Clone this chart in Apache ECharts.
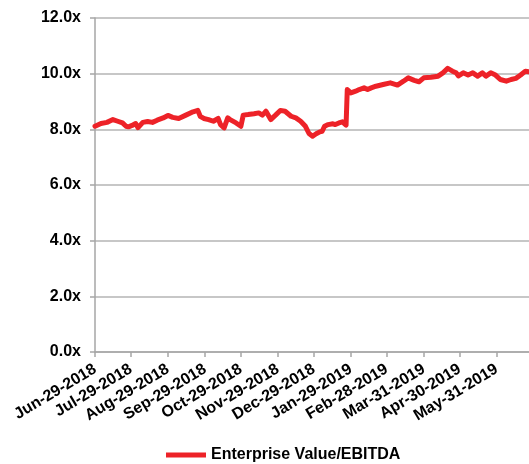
<!DOCTYPE html>
<html>
<head>
<meta charset="utf-8">
<script src="https://cdn.jsdelivr.net/npm/echarts@6/dist/echarts.min.js"></script>
<style>
  html, body { margin: 0; padding: 0; background: #fff; }
  #chart { width: 529px; height: 464px; }
</style>
</head>
<body>
<div id="chart"></div>
<script>
// Month-end ticks shown along the date axis
const tickLabels = [
  'Jun-29-2018', 'Jul-29-2018', 'Aug-29-2018', 'Sep-29-2018', 'Oct-29-2018',
  'Nov-29-2018', 'Dec-29-2018', 'Jan-29-2019', 'Feb-28-2019', 'Mar-31-2019',
  'Apr-30-2019', 'May-31-2019'
];

// Enterprise Value / EBITDA multiple, sampled dates
const sampleDates = [
  'Jun-29-2018', 'Jul-04-2018', 'Jul-09-2018', 'Jul-14-2018', 'Jul-18-2018', 'Jul-22-2018',
  'Jul-25-2018', 'Jul-27-2018', 'Jul-30-2018', 'Aug-02-2018', 'Aug-04-2018', 'Aug-08-2018',
  'Aug-12-2018', 'Aug-16-2018', 'Aug-20-2018', 'Aug-25-2018', 'Aug-29-2018', 'Sep-02-2018',
  'Sep-07-2018', 'Sep-13-2018', 'Sep-19-2018', 'Sep-23-2018', 'Sep-25-2018', 'Sep-28-2018',
  'Oct-02-2018', 'Oct-06-2018', 'Oct-10-2018', 'Oct-12-2018', 'Oct-15-2018', 'Oct-18-2018',
  'Oct-20-2018', 'Oct-25-2018', 'Oct-29-2018', 'Oct-31-2018', 'Nov-04-2018', 'Nov-09-2018',
  'Nov-13-2018', 'Nov-16-2018', 'Nov-19-2018', 'Nov-23-2018', 'Nov-27-2018', 'Dec-01-2018',
  'Dec-05-2018', 'Dec-10-2018', 'Dec-14-2018', 'Dec-18-2018', 'Dec-22-2018', 'Dec-25-2018',
  'Dec-28-2018', 'Dec-31-2018', 'Jan-03-2019', 'Jan-05-2019', 'Jan-07-2019', 'Jan-10-2019',
  'Jan-14-2019', 'Jan-16-2019', 'Jan-19-2019', 'Jan-22-2019', 'Jan-25-2019', 'Jan-26-2019',
  'Jan-29-2019', 'Feb-02-2019', 'Feb-05-2019', 'Feb-09-2019', 'Feb-12-2019', 'Feb-15-2019',
  'Feb-19-2019', 'Feb-25-2019', 'Mar-03-2019', 'Mar-09-2019', 'Mar-14-2019', 'Mar-18-2019',
  'Mar-23-2019', 'Mar-27-2019', 'Mar-31-2019', 'Apr-06-2019', 'Apr-12-2019', 'Apr-16-2019',
  'Apr-20-2019', 'Apr-24-2019', 'Apr-27-2019', 'Apr-29-2019', 'May-03-2019', 'May-07-2019',
  'May-11-2019', 'May-15-2019', 'May-19-2019', 'May-22-2019', 'May-26-2019', 'May-30-2019',
  'Jun-03-2019', 'Jun-08-2019', 'Jun-12-2019', 'Jun-16-2019', 'Jun-20-2019', 'Jun-24-2019',
  'Jun-27-2019'
];
const evEbitda = [
  8.11, 8.21, 8.25, 8.35, 8.29, 8.23,
  8.11, 8.09, 8.14, 8.21, 8.06, 8.25,
  8.28, 8.25, 8.33, 8.41, 8.50, 8.43,
  8.39, 8.51, 8.63, 8.68, 8.47, 8.39,
  8.35, 8.29, 8.39, 8.17, 8.05, 8.41,
  8.35, 8.23, 8.11, 8.51, 8.53, 8.56,
  8.59, 8.51, 8.65, 8.35, 8.51, 8.68,
  8.65, 8.47, 8.41, 8.29, 8.11, 7.85,
  7.75, 7.84, 7.91, 7.93, 8.11, 8.17,
  8.20, 8.17, 8.23, 8.27, 8.15, 9.43,
  9.31, 9.37, 9.43, 9.49, 9.43, 9.49,
  9.55, 9.61, 9.67, 9.59, 9.73, 9.85,
  9.76, 9.71, 9.85, 9.87, 9.91, 10.03,
  10.19, 10.09, 10.03, 9.92, 10.03, 9.95,
  10.03, 9.91, 10.03, 9.91, 10.03, 9.95,
  9.79, 9.73, 9.79, 9.83, 9.95, 10.09,
  10.07
];

const monthNames = ['Jan','Feb','Mar','Apr','May','Jun','Jul','Aug','Sep','Oct','Nov','Dec'];
function fmtDate(t) {
  const d = new Date(t);
  const dd = String(d.getUTCDate()).padStart(2, '0');
  return monthNames[d.getUTCMonth()] + '-' + dd + '-' + d.getUTCFullYear();
}

// One category per calendar day so the axis spacing follows real dates
const categories = [];
for (let t = Date.UTC(2018, 5, 29); t <= Date.UTC(2019, 5, 27); t += 86400000) {
  categories.push(fmtDate(t));
}
const seriesData = categories.map(() => null);
sampleDates.forEach((d, i) => {
  const idx = categories.indexOf(d);
  if (idx >= 0) seriesData[idx] = evEbitda[i];
});

const isTick = (idx) => tickLabels.indexOf(categories[idx]) >= 0;
const FONT = '"Liberation Sans", Arial, sans-serif';
const AXIS_GRAY = '#a6a6a6';

const chart = echarts.init(document.getElementById('chart'), null, { renderer: 'canvas' });
chart.setOption({
  animation: false,
  backgroundColor: '#ffffff',
  grid: { left: 95, right: 0, top: 18, bottom: 112, containLabel: false },
  xAxis: {
    type: 'category',
    data: categories,
    boundaryGap: false,
    axisLine: { lineStyle: { color: AXIS_GRAY, width: 1.5 } },
    axisTick: { show: true, length: 5, interval: isTick, lineStyle: { color: AXIS_GRAY, width: 1.5 } },
    axisLabel: {
      interval: isTick,
      rotate: 31,
      margin: 16,
      color: '#000',
      fontFamily: FONT,
      fontWeight: 'bold',
      fontSize: 16
    },
    splitLine: { show: false }
  },
  yAxis: {
    type: 'value',
    min: 0,
    max: 12,
    interval: 2,
    axisLine: { show: true, lineStyle: { color: AXIS_GRAY, width: 1.5 } },
    axisTick: { show: true, length: 5, lineStyle: { color: AXIS_GRAY, width: 1.5 } },
    axisLabel: {
      margin: 14,
      color: '#000',
      fontFamily: FONT,
      fontWeight: 'bold',
      fontSize: 16,
      formatter: (v) => v.toFixed(1) + 'x'
    },
    splitLine: { show: true, lineStyle: { color: '#b4b4b4', width: 1.5 } }
  },
  legend: {
    left: 166,
    top: 447,
    padding: 0,
    icon: 'rect',
    itemWidth: 40,
    itemHeight: 5,
    itemGap: 10,
    textStyle: { color: '#000', fontFamily: FONT, fontWeight: 'bold', fontSize: 16 },
    data: ['Enterprise Value/EBITDA']
  },
  series: [{
    name: 'Enterprise Value/EBITDA',
    type: 'line',
    data: seriesData,
    connectNulls: true,
    showSymbol: false,
    symbol: 'none',
    color: '#ED2228',
    lineStyle: { color: '#ED2228', width: 5, join: 'round', cap: 'round' }
  }]
});
</script>
</body>
</html>
